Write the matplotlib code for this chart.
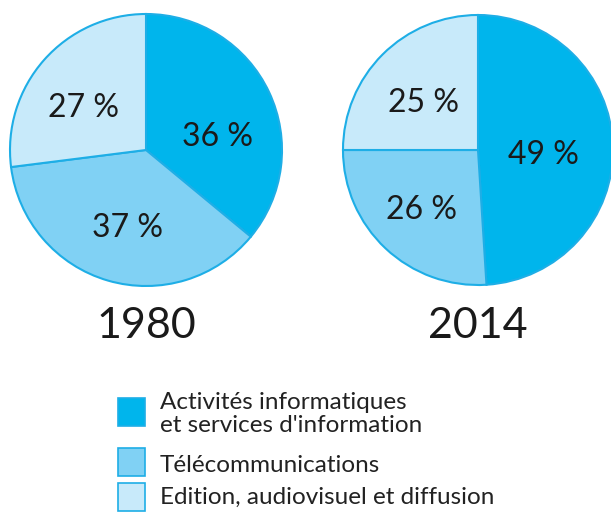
import matplotlib.pyplot as plt
from matplotlib.patches import Rectangle

plt.rcParams['font.family'] = ['Lato', 'DejaVu Sans']
plt.rcParams['font.weight'] = 'normal'

years = ["1980", "2014"]
categories = ["Activités informatiques\net services d'information",
              "Télécommunications",
              "Edition, audiovisuel et diffusion"]
shares_1980 = [36, 37, 27]
shares_2014 = [49, 26, 25]
colors = ["#00b5ec", "#80d1f4", "#c8eafa"]
edge = "#1eaee6"

H = 512
fig = plt.figure(figsize=(6.11, 5.12), dpi=100)
ax = fig.add_axes([0, 0, 1, 1])

pies = [(shares_1980, (146, H - 150), 136,
         [(217, 137), (127, 228), (84, 108)]),
        (shares_2014, (478, H - 150), 135,
         [(543, 155), (422, 210), (423, 103)])]

for (vals, c, r, lab_pos), yr in zip(pies, years):
    ax.pie(vals, colors=colors, startangle=90, counterclock=False,
           center=c, radius=r,
           wedgeprops=dict(edgecolor=edge, linewidth=1.5))
    for v, (lx, ly) in zip(vals, lab_pos):
        ax.text(lx, H - ly, f"{v} %", fontsize=23, ha='center', va='center',
                color='#1a1a1a')
    ax.text(c[0], H - 326, yr, fontsize=31, ha='center', va='center',
            color='#1a1a1a')

# legend
box_y = [398, 448, 483]
text_y = [414, 465, 497]
for col, by, ty, lab in zip(colors, box_y, text_y, categories):
    ax.add_patch(Rectangle((118, H - by - 28), 27, 28, facecolor=col,
                           edgecolor=edge, linewidth=1.2))
    ax.text(160, H - ty, lab, fontsize=17.5, ha='left', va='center',
            color='#222222', linespacing=1.15)

ax.set_xlim(0, 611)
ax.set_ylim(0, H)
ax.set_aspect('auto')
ax.axis('off')
fig.savefig("out.png", dpi=100)
